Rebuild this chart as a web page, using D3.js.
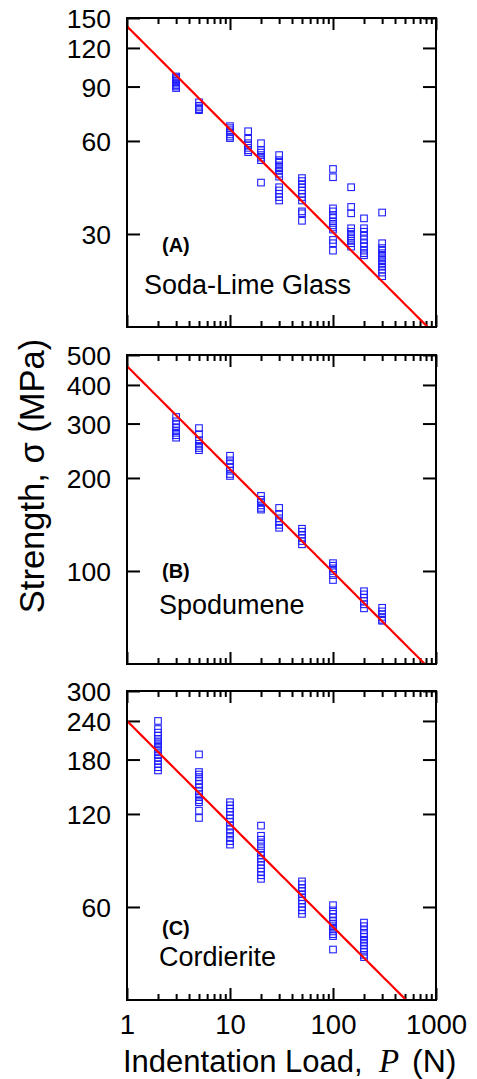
<!DOCTYPE html>
<html>
<head>
<meta charset="utf-8">
<script src="https://cdn.jsdelivr.net/npm/d3@7"></script>
<style>
  body { margin: 0; background: #fff; }
  svg text { font-family: "Liberation Sans", Arial, sans-serif; fill: #000; }
</style>
</head>
<body>
<div id="chart"></div>
<script>
// ---- data ----
var glassLoads = [3, 5, 10, 15, 20, 30, 50, 100, 150, 200, 300];
var glassStrengths = [
  [97, 96, 95, 94, 93, 92, 91, 90, 89],
  [80, 78, 77, 76, 75.5],
  [67, 66, 65, 64, 63, 62, 61.3],
  [64.5, 61, 59, 58, 57, 56, 55.2],
  [59, 56, 55, 54, 53, 52, 44],
  [54, 52, 51, 50, 49, 48, 47, 46, 42.5, 41.5, 40.5, 39.5, 38.5],
  [45.5, 44.5, 43.5, 42.5, 41.5, 40.5, 39.5, 38.5, 35.5, 35, 33.1],
  [48.7, 45.8, 36.3, 35.5, 34.5, 34, 33, 32, 31.5, 31, 28.7, 28, 26.5],
  [42.5, 36.7, 35, 31.3, 30.5, 30, 29.5, 29, 28.5, 28, 27.3],
  [33.7, 31.3, 30.5, 29.6, 28.8, 28, 27.3, 26.5, 26, 25.6],
  [35.2, 28, 27, 26.5, 26, 25.5, 25, 24.5, 24, 23.5, 23, 22.5, 21.9]
];

var spodLoads = [3, 5, 10, 20, 30, 50, 100, 200, 300];
var spodStrengths = [
  [315, 305, 298, 292, 285, 280, 275, 270],
  [290, 277, 265, 258, 254, 250, 246],
  [236, 228, 222, 216, 211, 206, 203],
  [175, 170, 167, 163, 160, 158],
  [160, 153, 148, 144, 141, 138],
  [137, 134, 131, 128, 125, 122],
  [106, 104, 102, 100, 97, 93.5],
  [86, 84, 82, 80, 78, 75.7],
  [76, 74, 72.5, 71, 69.5, 69]
];

var cordLoads = [2, 5, 10, 20, 50, 100, 200];
var cordStrengths = [
  [240, 226, 220, 215, 210, 206, 202, 198, 194, 190, 186, 182, 178, 174, 170, 166],
  [187, 164, 161, 158, 154, 150, 146, 142, 139, 136, 133, 131, 123, 116.5],
  [131, 128, 125, 122, 119, 116, 113, 110, 107, 104, 101, 98, 95.5],
  [110, 102, 99, 96, 93, 90, 88, 86, 84, 82, 80, 78, 76, 74],
  [72.6, 71, 69, 67.5, 66, 64.5, 63, 61.5, 60, 58.5, 57],
  [60.8, 58.5, 57, 55.5, 54, 53, 52, 51, 50, 49, 48.3, 43.7],
  [53.4, 52, 50.5, 49, 48, 47, 46, 45, 44, 43, 42, 41.3]
];

// fitted lines sigma = coef * P^exponent
var fitCoef = [141, 460, 240];
var fitExponent = -1 / 3;

var xTicks = [1, 10, 100, 1000];
var xTickLabels = ["1", "10", "100", "1000"];
var yTicksA = [30, 60, 90, 120, 150];
var yTicksB = [100, 200, 300, 400, 500];
var yTicksC = [60, 120, 180, 240, 300];
var yDomainA = [15, 150];
var yDomainB = [50, 500];
var yDomainC = [30, 300];

var panelNames = ["Soda-Lime Glass", "Spodumene", "Cordierite"];
var panelTags = ["(A)", "(B)", "(C)"];

// ---- layout ----
var W = 477, H = 1079;
var left = 127, right = 436;
var panelTops = [18, 355, 691];
var panelH = 309;

var svg = d3.select("#chart").append("svg").attr("width", W).attr("height", H);

var x = d3.scaleLog().domain([1, 1000]).range([left, right]);

var minorX = [];
[1, 10, 100].forEach(function(d) { for (var k = 2; k <= 9; k++) minorX.push(d * k); });

var panels = [
  {loads: glassLoads, strengths: glassStrengths, dom: yDomainA, ticks: yTicksA, labX: 144, labY: 294, tagY: 252},
  {loads: spodLoads, strengths: spodStrengths, dom: yDomainB, ticks: yTicksB, labX: 159, labY: 614, tagY: 578},
  {loads: cordLoads, strengths: cordStrengths, dom: yDomainC, ticks: yTicksC, labX: 159, labY: 966, tagY: 935}
];

panels.forEach(function(p, i) {
  var top = panelTops[i], bottom = top + panelH;
  var y = d3.scaleLog().domain(p.dom).range([bottom, top]);
  var g = svg.append("g");

  var clipId = "clip" + i;
  g.append("clipPath").attr("id", clipId).append("rect")
    .attr("x", left).attr("y", top).attr("width", right - left).attr("height", panelH);

  // y axis left with labels, right without
  var yl = g.append("g").attr("transform", "translate(" + left + ",0)")
    .call(d3.axisLeft(y).tickValues(p.ticks).tickFormat(d3.format("d")).tickSize(-13).tickPadding(16));
  var yr = g.append("g").attr("transform", "translate(" + right + ",0)")
    .call(d3.axisRight(y).tickValues(p.ticks).tickFormat("").tickSize(-13));

  // x axis top and bottom: major + minor
  var xb = g.append("g").attr("transform", "translate(0," + bottom + ")")
    .call(d3.axisBottom(x).tickValues(xTicks).tickSize(-12).tickPadding(14)
      .tickFormat(function(d, j) { return i == 2 ? xTickLabels[j] : ""; }));
  var xbm = g.append("g").attr("transform", "translate(0," + bottom + ")")
    .call(d3.axisBottom(x).tickValues(minorX).tickSize(-6).tickFormat(""));
  var xt = g.append("g").attr("transform", "translate(0," + top + ")")
    .call(d3.axisTop(x).tickValues(xTicks).tickSize(-12).tickFormat(""));
  var xtm = g.append("g").attr("transform", "translate(0," + top + ")")
    .call(d3.axisTop(x).tickValues(minorX).tickSize(-6).tickFormat(""));

  [yl, yr, xb, xbm, xt, xtm].forEach(function(a) {
    a.select(".domain").remove();
    a.selectAll("line").attr("stroke", "#000").attr("stroke-width", 2);
    a.selectAll("text").attr("fill", "#000")
      .style("font-family", "'Liberation Sans', Arial, sans-serif");
  });
  yl.selectAll("text").style("font-size", "26.5px").attr("dy", "0.36em");
  xb.selectAll("text").style("font-size", "27.5px").attr("dy", "0.72em");

  // data points
  var pts = [];
  p.loads.forEach(function(load, j) {
    p.strengths[j].forEach(function(s) { pts.push({P: load, s: s}); });
  });
  g.append("g").attr("clip-path", "url(#" + clipId + ")")
    .selectAll("rect.pt").data(pts).enter().append("rect").attr("class", "pt")
    .attr("x", function(d) { return x(d.P) - 3.3; })
    .attr("y", function(d) { return y(d.s) - 3.3; })
    .attr("width", 6.6).attr("height", 6.6)
    .attr("fill", "none").attr("stroke", "#2020ff").attr("stroke-width", 1.1);

  // fit line
  var lineData = d3.range(0, 3.001, 0.05).map(function(e) {
    var P = Math.pow(10, e);
    return {P: P, s: fitCoef[i] * Math.pow(P, fitExponent)};
  });
  g.append("path").attr("clip-path", "url(#" + clipId + ")")
    .datum(lineData)
    .attr("d", d3.line().x(function(d) { return x(d.P); }).y(function(d) { return y(d.s); }))
    .attr("fill", "none").attr("stroke", "#ff0000").attr("stroke-width", 2.2);

  // frame
  g.append("rect").attr("x", left).attr("y", top).attr("width", right - left).attr("height", panelH)
    .attr("fill", "none").attr("stroke", "#000").attr("stroke-width", 2);

  // labels
  g.append("text").attr("x", 162).attr("y", p.tagY).text(panelTags[i])
    .style("font-size", "20px").style("font-weight", "bold");
  g.append("text").attr("x", p.labX).attr("y", p.labY).text(panelNames[i])
    .style("font-size", "27px");
});

// axis titles
svg.append("text")
  .attr("transform", "translate(44,476) rotate(-90)")
  .attr("text-anchor", "middle")
  .style("font-size", "34.5px")
  .text("Strength, σ (MPa)");

var xtitle = svg.append("text").attr("y", 1072).style("font-size", "31px");
xtitle.append("tspan").attr("x", 123).text("Indentation Load,");
xtitle.append("tspan").attr("x", 379).text("P")
  .style("font-family", "'Liberation Serif', 'Times New Roman', serif").style("font-style", "italic")
  .style("font-size", "33px");
xtitle.append("tspan").attr("x", 412).text("(N)")
  .style("font-size", "32px");
</script>
</body>
</html>
